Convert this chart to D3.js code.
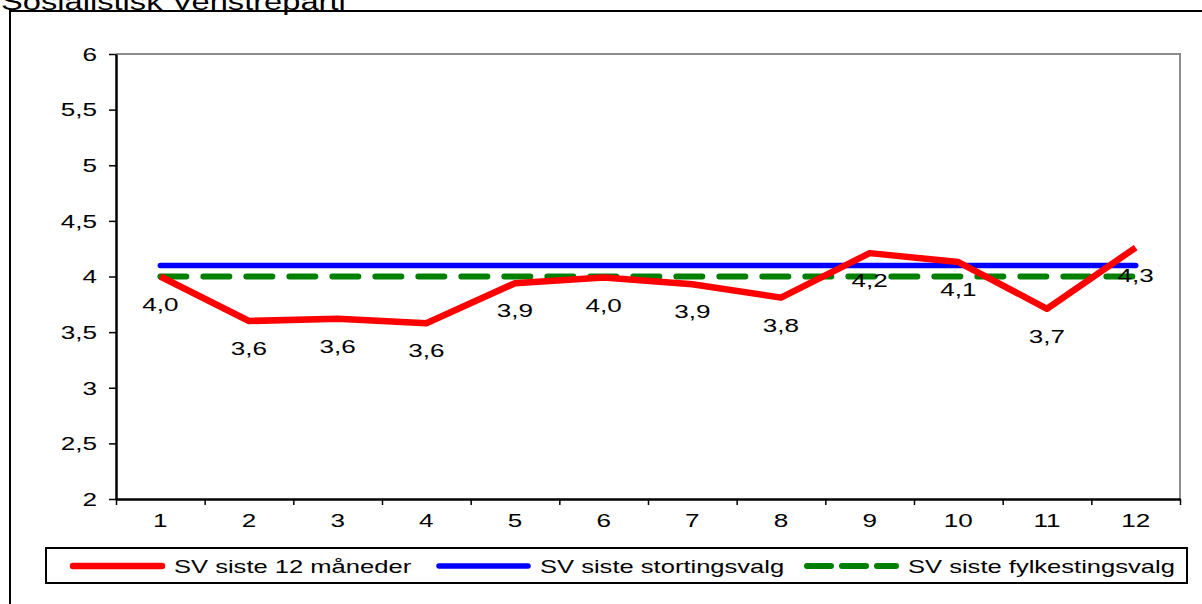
<!DOCTYPE html>
<meta charset="utf-8">
<title>SV</title>
<body>
<script src="https://cdn.jsdelivr.net/npm/d3@7"></script>
<style>
html, body {
    margin: 0;
    background: #fff;
}
svg {
    display: block;
    font-family: "Liberation Sans", Arial, sans-serif;
}
</style>
<svg></svg>
<script>
var months = ["1", "2", "3", "4", "5", "6", "7", "8", "9", "10", "11", "12"],
    sv12 = [4.0, 3.6, 3.62, 3.58, 3.94, 3.99, 3.93, 3.81, 4.21, 4.13, 3.71, 4.26],
    storting = [4.1, 4.1, 4.1, 4.1, 4.1, 4.1, 4.1, 4.1, 4.1, 4.1, 4.1, 4.1],
    fylke = [4.0, 4.0, 4.0, 4.0, 4.0, 4.0, 4.0, 4.0, 4.0, 4.0, 4.0, 4.0],
    yTicks = [2, 2.5, 3, 3.5, 4, 4.5, 5, 5.5, 6],
    seriesNames = ["SV siste 12 måneder", "SV siste stortingsvalg", "SV siste fylkestingsvalg"],
    title = "Sosialistisk Venstreparti";

var width = 1202,
    height = 604,
    plotLeft = 116,
    plotRight = 1180,
    plotTop = 54,
    plotBottom = 499,
    SX = 1.45; // the picture's text is stretched sideways

var svg = d3.select("svg")
    .attr("width", width)
    .attr("height", height);

var comma = function(v) { return String(v).replace(".", ","); };
var fmt1 = function(v) { return d3.format(".1f")(v).replace(".", ","); };

// outer chart frame
svg.append("rect")
    .attr("x", 10)
    .attr("y", 11)
    .attr("width", 1200)
    .attr("height", 600)
    .attr("fill", "#fff")
    .attr("stroke", "#000")
    .attr("stroke-width", 2);

svg.append("text")
    .attr("transform", "translate(1,10) scale(1.42,1)")
    .attr("font-size", 23)
    .text(title);

var x = d3.scaleBand().domain(months).range([plotLeft, plotRight]).padding(0),
    xEdge = d3.scaleLinear().domain([0, months.length]).range([plotLeft, plotRight]),
    y = d3.scaleLinear().domain([2, 6]).range([plotBottom, plotTop]);

var cx = function(d, i) { return x(months[i]) + x.bandwidth() / 2; };

// plot area: grey top and right edges
svg.append("path")
    .attr("d", "M" + [plotLeft, plotTop] + "H" + plotRight + "V" + plotBottom)
    .attr("fill", "none")
    .attr("stroke", "#8c8c8c")
    .attr("stroke-width", 2);

// y axis
var yAxis = svg.append("g")
    .attr("transform", "translate(" + plotLeft + ",0)")
    .call(d3.axisLeft(y).tickValues(yTicks).tickFormat(comma).tickSize(7).tickSizeOuter(0));

yAxis.select(".domain").attr("stroke-width", 2.5);
yAxis.selectAll(".tick line").attr("stroke-width", 1.5);
yAxis.selectAll(".tick text")
    .attr("x", null)
    .attr("dy", "0.35em")
    .attr("transform", "translate(-19,0) scale(" + SX + ",1)")
    .attr("font-size", 18)
    .attr("fill", "#000");

// x axis: ticks at category edges, labels at centres
var xTicks = svg.append("g")
    .attr("transform", "translate(0," + plotBottom + ")")
    .call(d3.axisBottom(xEdge).tickValues(d3.range(months.length + 1)).tickFormat("").tickSize(6).tickSizeOuter(0));

xTicks.select(".domain").attr("stroke-width", 2.5);
xTicks.selectAll(".tick line").attr("stroke-width", 1.5);

var xLabels = svg.append("g")
    .attr("transform", "translate(0," + plotBottom + ")")
    .call(d3.axisBottom(x).tickSize(0));

xLabels.select(".domain").remove();
xLabels.selectAll(".tick text")
    .attr("y", null)
    .attr("dy", null)
    .attr("transform", "translate(0,28) scale(" + SX + ",1)")
    .attr("font-size", 18)
    .attr("fill", "#000");

// series
var line = d3.line()
    .x(cx)
    .y(function(d) { return y(d); });

svg.append("path")
    .datum(storting)
    .attr("d", line)
    .attr("fill", "none")
    .attr("stroke", "#0000ff")
    .attr("stroke-width", 5.5)
    .attr("stroke-linecap", "round");

svg.append("path")
    .datum(fylke)
    .attr("d", line)
    .attr("fill", "none")
    .attr("stroke", "#008000")
    .attr("stroke-width", 6)
    .attr("stroke-linecap", "round")
    .attr("stroke-dasharray", "26,17");

svg.append("path")
    .datum(sv12)
    .attr("d", line)
    .attr("fill", "none")
    .attr("stroke", "#ff0000")
    .attr("stroke-width", 6.5)
    .attr("stroke-linejoin", "round");

svg.append("g")
    .selectAll("text")
    .data(sv12)
    .enter().append("text")
    .attr("transform", function(d, i) {
        return "translate(" + cx(d, i) + "," + (y(d) + 34) + ") scale(" + SX + ",1)";
    })
    .attr("text-anchor", "middle")
    .attr("font-size", 18)
    .text(fmt1);

// legend
var legend = svg.append("g");

legend.append("rect")
    .attr("x", 46)
    .attr("y", 548)
    .attr("width", 1141)
    .attr("height", 35)
    .attr("fill", "#fff")
    .attr("stroke", "#000")
    .attr("stroke-width", 2);

var legendItems = [
    { name: seriesNames[0], x: 70, color: "#ff0000", w: 6.5, dash: null },
    { name: seriesNames[1], x: 436, color: "#0000ff", w: 5.5, dash: null },
    { name: seriesNames[2], x: 804, color: "#008000", w: 6, dash: "24,11" }
];

var li = legend.selectAll(".item")
    .data(legendItems)
    .enter().append("g")
    .attr("class", "item");

li.append("line")
    .attr("x1", function(d) { return d.x + 3; })
    .attr("x2", function(d) { return d.x + 92; })
    .attr("y1", 566)
    .attr("y2", 566)
    .attr("stroke", function(d) { return d.color; })
    .attr("stroke-width", function(d) { return d.w; })
    .attr("stroke-linecap", "round")
    .attr("stroke-dasharray", function(d) { return d.dash; });

li.append("text")
    .attr("transform", function(d) {
        return "translate(" + (d.x + 104) + ",573) scale(1.42,1)";
    })
    .attr("font-size", 18)
    .text(function(d) { return d.name; });
</script>
